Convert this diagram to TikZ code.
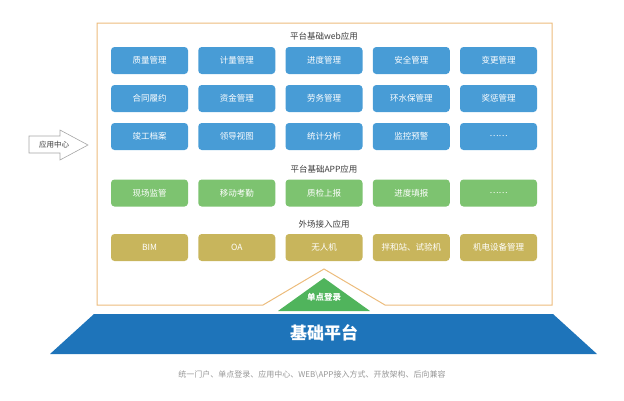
\documentclass[tikz,border=0pt]{standalone}
\usepackage{fontspec}
\setmainfont{Noto Sans CJK SC}
\begin{document}
\begin{tikzpicture}[x=1pt,y=-1pt,
  btn/.style={rectangle,rounded corners=3.5pt,minimum width=77pt,minimum height=27pt,inner sep=0pt,text=white,font=\fontsize{8.5}{10}\selectfont},
  bluebtn/.style={btn,fill=btnblue},
  greenbtn/.style={btn,fill=btngreen},
  goldbtn/.style={btn,fill=btngold},
  ttl/.style={text=titlegray,font=\fontsize{8.5}{10}\selectfont,inner sep=1pt}]
\definecolor{btnblue}{RGB}{72,156,214}
\definecolor{btngreen}{RGB}{125,195,112}
\definecolor{btngold}{RGB}{200,181,92}
\definecolor{baseblue}{RGB}{30,116,186}
\definecolor{trigreen}{RGB}{80,180,92}
\definecolor{orangeline}{RGB}{236,188,124}
\definecolor{titlegray}{RGB}{60,60,60}
\definecolor{capgray}{RGB}{150,150,150}
\useasboundingbox (0,0) rectangle (624,400);
% outer frame with triangle
\draw[orangeline,line width=1pt] (263,305) -- (97,305) -- (97,23) -- (552,23) -- (552,305) -- (385,305) -- (324,269) -- cycle;
% titles
\node[ttl] (t1) at (324,36) {平台基础web应用};
\node[ttl] (t2) at (324,169) {平台基础APP应用};
\node[ttl] (t3) at (324,224) {外场接入应用};
% web buttons
\foreach \txt [count=\i from 0] in {质量管理,计量管理,进度管理,安全管理,变更管理}
  \node[bluebtn] (a\i) at (149.5+87.25*\i,60.5) {\txt};
\foreach \txt [count=\i from 0] in {合同履约,资金管理,劳务管理,环水保管理,奖惩管理}
  \node[bluebtn] (b\i) at (149.5+87.25*\i,98.5) {\txt};
\foreach \txt [count=\i from 0] in {竣工档案,领导视图,统计分析,监控预警,……}
  \node[bluebtn] (c\i) at (149.5+87.25*\i,136.5) {\txt};
% app buttons
\foreach \txt [count=\i from 0] in {现场监管,移动考勤,质检上报,进度填报,……}
  \node[greenbtn] (d\i) at (149.5+87.25*\i,193) {\txt};
% external
\foreach \txt [count=\i from 0] in {BIM,OA,无人机,拌和站、试验机,机电设备管理}
  \node[goldbtn] (e\i) at (149.5+87.25*\i,247.5) {\txt};
% single sign-on triangle
\fill[trigreen] (278,311) -- (324,278) -- (370,311) -- cycle;
\node[text=white,font=\bfseries\fontsize{8.5}{10}\selectfont] (sso) at (324,297) {单点登录};
% base platform
\fill[baseblue] (94,314) -- (553,314) -- (597,354) -- (50,354) -- cycle;
\node[text=white,font=\bfseries\fontsize{17}{20}\selectfont] (base) at (324,333) {基础平台};
% caption
\node[text=capgray,font=\fontsize{8}{10}\selectfont] (cap) at (312,375) {统一门户、单点登录、应用中心、WEB\textbackslash APP接入方式、开放架构、后向兼容};
% app center arrow
\draw[gray!70,fill=white,line width=0.6pt] (29,136) -- (60,136) -- (60,130) -- (88,145) -- (60,160) -- (60,153) -- (29,153) -- cycle;
\node[text=titlegray,font=\fontsize{7.5}{9}\selectfont] (appc) at (54,145) {应用中心};
\end{tikzpicture}
\end{document}
